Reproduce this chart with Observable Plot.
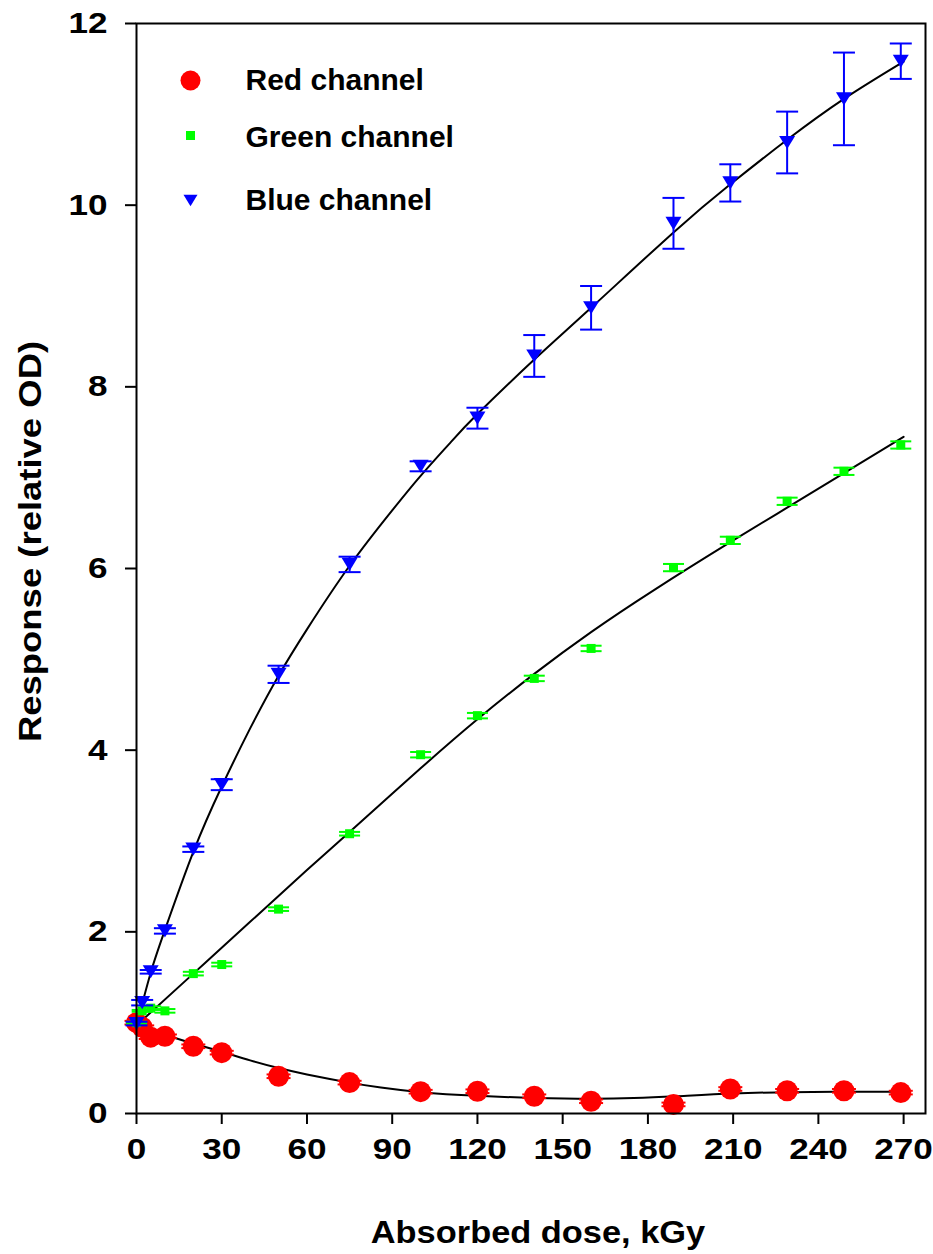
<!DOCTYPE html>
<html>
<head>
<meta charset="utf-8">
<script src="https://cdn.jsdelivr.net/npm/d3@7"></script>
<script src="https://cdn.jsdelivr.net/npm/@observablehq/plot@0.6"></script>
<style>
  html, body { margin: 0; padding: 0; background: #ffffff; }
  #chart { width: 933px; height: 1254px; }
</style>
</head>
<body>
<div id="chart"></div>
<script>
// ---- data ----
const doses = [0, 2, 5, 10, 20, 30, 50, 75, 100, 120, 140, 160, 189, 209, 229, 249, 269];

const redValues  = [1.00, 0.95, 0.84, 0.85, 0.74, 0.67, 0.41, 0.34, 0.24, 0.245, 0.19, 0.135, 0.10, 0.27, 0.25, 0.25, 0.23];
const redErrors  = [0.02, 0.02, 0.02, 0.02, 0.02, 0.02, 0.02, 0.02, 0.02, 0.02, 0.02, 0.02, 0.02, 0.02, 0.02, 0.02, 0.02];

const greenValues = [1.00, 1.13, 1.16, 1.13, 1.54, 1.64, 2.25, 3.08, 3.95, 4.38, 4.79, 5.12, 6.01, 6.31, 6.74, 7.07, 7.36];
const greenErrors = [0.01, 0.01, 0.02, 0.02, 0.02, 0.02, 0.02, 0.02, 0.03, 0.03, 0.03, 0.03, 0.04, 0.04, 0.04, 0.04, 0.04];

const blueValues = [0.99, 1.22, 1.56, 2.01, 2.91, 3.62, 4.835, 6.045, 7.125, 7.655, 8.34, 8.87, 9.80, 10.245, 10.69, 11.17, 11.585];
const blueErrors = [0.02, 0.03, 0.02, 0.03, 0.03, 0.06, 0.095, 0.085, 0.055, 0.115, 0.23, 0.24, 0.28, 0.205, 0.34, 0.51, 0.195];

// fitted curves, sampled along the black lines of the picture
const redFitX = [0, 10, 20, 30, 40, 50, 60, 75, 86, 100, 120, 140, 160, 175, 190, 210, 230, 250, 270];
const redFitY = [0.99, 0.87, 0.77, 0.68, 0.585, 0.50, 0.43, 0.34, 0.285, 0.235, 0.195, 0.172, 0.163, 0.17, 0.19, 0.22, 0.235, 0.24, 0.24];

const greenFitX = [0, 20, 40, 60, 75, 100, 120, 140, 160, 182, 209, 229, 249, 270];
const greenFitY = [0.97, 1.54, 2.11, 2.68, 3.10, 3.80, 4.34, 4.84, 5.30, 5.76, 6.29, 6.67, 7.05, 7.45];

const blueFitX = [0, 5, 10, 20, 30, 40, 50, 60, 75, 90, 100, 110, 120, 140, 160, 189, 209, 229, 249, 270];
const blueFitY = [0.97, 1.55, 2.02, 2.88, 3.60, 4.24, 4.82, 5.33, 6.03, 6.64, 7.02, 7.37, 7.70, 8.30, 8.87, 9.70, 10.23, 10.72, 11.17, 11.58];

const xTicks = [0, 30, 60, 90, 120, 150, 180, 210, 240, 270];
const yTicks = [0, 2, 4, 6, 8, 10, 12];

const xLabel = "Absorbed dose, kGy";
const yLabel = "Response (relative OD)";
const legendLabels = ["Red channel", "Green channel", "Blue channel"];
const seriesColors = ["#ff0000", "#00ff00", "#0000ff"];

// ---- tables ----
const pts = (vals, errs) => doses.map((d, i) => ({dose: d, value: vals[i], err: errs[i]}));
const redPts = pts(redValues, redErrors);
const greenPts = pts(greenValues, greenErrors);
const bluePts = pts(blueValues, blueErrors);
const fit = (xs, ys) => xs.map((x, i) => ({dose: x, value: ys[i]}));
const redFit = fit(redFitX, redFitY);
const greenFit = fit(greenFitX, greenFitY);
const blueFit = fit(blueFitX, blueFitY);

// ---- custom symbols ----
const capSymbol = {draw(ctx, size) { const r = Math.sqrt(size / Math.PI); ctx.moveTo(-r, 0); ctx.lineTo(r, 0); }};
const triDown = {draw(ctx, size) { const r = Math.sqrt(size / Math.PI); ctx.moveTo(-r, -0.82 * r); ctx.lineTo(r, -0.82 * r); ctx.lineTo(0, 0.82 * r); ctx.closePath(); }};
const squareSym = {draw(ctx, size) { const r = Math.sqrt(size / Math.PI); ctx.rect(-r, -r, 2 * r, 2 * r); }};

function errorMarks(data, color, capR) {
  return [
    Plot.ruleX(data, {x: "dose", y1: d => d.value - d.err, y2: d => d.value + d.err, stroke: color, strokeWidth: 2}),
    Plot.dot(data, {x: "dose", y: d => d.value + d.err, symbol: capSymbol, r: capR, stroke: color, strokeWidth: 2, fill: "none"}),
    Plot.dot(data, {x: "dose", y: d => d.value - d.err, symbol: capSymbol, r: capR, stroke: color, strokeWidth: 2, fill: "none"})
  ];
}

const legendSymbols = [
  {symbol: "circle", r: 10},
  {symbol: squareSym, r: 4.5},
  {symbol: triDown, r: 7}
];
const legendDy = [57, 112, 177];

const chart = Plot.plot({
  width: 933,
  height: 1254,
  marginLeft: 136,
  marginRight: 8,
  marginTop: 23,
  marginBottom: 141,
  style: {fontFamily: "'Liberation Sans', Arial, sans-serif", fontWeight: "bold", fontSize: "30px", background: "#ffffff", color: "#000000", overflow: "visible"},
  x: {domain: [0, 277.7]},
  y: {domain: [0, 12]},
  marks: [
    Plot.line(redFit, {x: "dose", y: "value", stroke: "black", strokeWidth: 2, curve: "natural"}),
    Plot.line(greenFit, {x: "dose", y: "value", stroke: "black", strokeWidth: 2, curve: "natural"}),
    Plot.line(blueFit, {x: "dose", y: "value", stroke: "black", strokeWidth: 2, curve: "natural"}),
    ...errorMarks(redPts, seriesColors[0], 12),
    Plot.dot(redPts, {x: "dose", y: "value", r: 10.5, fill: seriesColors[0], stroke: "none"}),
    ...errorMarks(greenPts, seriesColors[1], 10.5),
    Plot.dot(greenPts, {x: "dose", y: "value", symbol: squareSym, r: 4.5, fill: seriesColors[1], stroke: "none"}),
    ...errorMarks(bluePts, seriesColors[2], 11),
    Plot.dot(bluePts, {x: "dose", y: "value", symbol: triDown, r: 8, fill: seriesColors[2], stroke: "none"}),
    Plot.frame({stroke: "black", strokeWidth: 2}),
    Plot.axisX({ticks: xTicks, tickSize: 11, tickPadding: 13, fontSize: 30, strokeWidth: 2, label: null, tickFormat: d => String(d)}),
    Plot.axisY({ticks: yTicks, tickSize: 11, tickPadding: 18, fontSize: 30, strokeWidth: 2, label: null, tickFormat: d => String(d)}),
    Plot.text([xLabel], {text: d => d, frameAnchor: "bottom", dx: 7, dy: 120, fontSize: 31, lineAnchor: "middle", textAnchor: "middle", fill: "black", ariaLabel: () => "x-title"}),
    Plot.text([yLabel], {text: d => d, frameAnchor: "left", rotate: -90, dx: -106, dy: -27, fontSize: 32, lineAnchor: "middle", textAnchor: "middle", fill: "black", ariaLabel: () => "y-title"}),
    ...legendLabels.map((lab, i) => Plot.dot([lab], {frameAnchor: "top-left", dx: 54, dy: legendDy[i], symbol: legendSymbols[i].symbol, r: legendSymbols[i].r, fill: seriesColors[i], stroke: "none"})),
    ...legendLabels.map((lab, i) => Plot.text([lab], {text: d => d, frameAnchor: "top-left", dx: 109, dy: legendDy[i] + (i === 1 ? 2 : 0), fontSize: 30, textAnchor: "start", lineAnchor: "middle", fill: "black"}))
  ]
});

// the reference's lettering is wider than Liberation Sans: stretch text horizontally
function stretch(label, s) {
  d3.select(chart).selectAll(`[aria-label='${label}']`).each(function() {
    const texts = this.tagName.toLowerCase() === "text" ? [this] : Array.from(this.querySelectorAll("text"));
    for (const node of texts) {
      const el = d3.select(node);
      const t = el.attr("transform");
      if (t) {
        el.attr("transform", t + ` scale(${s},1)`);
      } else {
        const x = +el.attr("x") || 0, y = +el.attr("y") || 0;
        el.attr("x", null).attr("y", null).attr("transform", `translate(${x},${y}) scale(${s},1)`);
      }
    }
  });
}
stretch("x-axis tick label", 1.17);
stretch("y-axis tick label", 1.17);
stretch("x-title", 1.11);
stretch("y-title", 1.14);

document.getElementById("chart").appendChild(chart);
</script>
</body>
</html>
